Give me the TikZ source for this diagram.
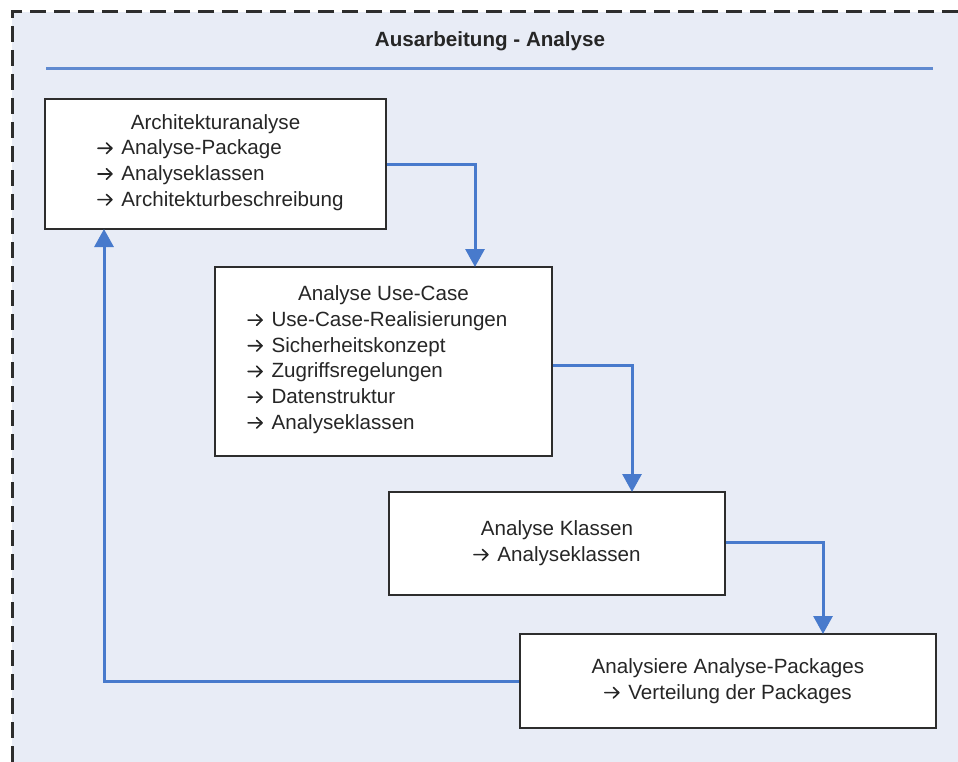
\documentclass[tikz,border=0pt]{standalone}
\usepackage{fontspec}
\setmainfont{Liberation Sans}
\usetikzlibrary{arrows.meta}
\definecolor{bgfill}{RGB}{232,236,246}
\definecolor{connblue}{RGB}{72,122,204}
\definecolor{hdrblue}{RGB}{96,138,208}
\definecolor{borderdark}{RGB}{45,45,45}
\newcommand{\rarrow}{\tikz[x=1pt,y=1pt,baseline=0pt]{\useasboundingbox (0,0) rectangle (15,12);
  \draw[line width=1.6pt, line cap=round, line join=round, black!85] (0.5,6.5) -- (14.5,6.5) (9,1.2) -- (14.5,6.5) -- (9,11.8);}\hspace{9pt}}
\tikzset{
  box/.style={draw=borderdark, line width=2pt, fill=white, inner sep=0pt,
    align=center, font=\fontsize{20.6}{25.7}\selectfont, text=black!85},
  conn/.style={draw=connblue, line width=3pt,
    -{Triangle[width=19pt,length=18pt]}},
}
\begin{document}
\begin{tikzpicture}[x=1pt,y=-1pt]
\useasboundingbox (0,0) rectangle (958,762);
% background frame
\fill[bgfill] (12,12) rectangle (958,762);
\draw[borderdark, line width=3pt, dash pattern=on 16pt off 8pt] (958,12) -- (12,12) -- (12,762);
% title
\node[font=\fontsize{20.6}{25}\selectfont\bfseries, text=black!85, anchor=base] (title) at (490,47) {Ausarbeitung - Analyse};
\draw[hdrblue, line width=3pt] (46,69) -- (933,69);
% boxes
\node[box, minimum width=341pt, minimum height=130pt] (a) at (215.5,164)
 {Architekturanalyse\\
  \begin{tabular}[t]{@{\hspace{10pt}}l@{}}
  \rarrow Analyse-Package\\ \rarrow Analyseklassen\\ \rarrow Architekturbeschreibung
  \end{tabular}};
\node[box, minimum width=337pt, minimum height=189pt] (b) at (383.5,361.5)
 {Analyse Use-Case\\
  \begin{tabular}[t]{@{}l@{\hspace{12pt}}}
  \rarrow Use-Case-Realisierungen\\ \rarrow Sicherheitskonzept\\ \rarrow Zugriffsregelungen\\ \rarrow Datenstruktur\\ \rarrow Analyseklassen
  \end{tabular}};
\node[box, minimum width=336pt, minimum height=103pt] (c) at (557,543)
 {Analyse Klassen\\ \rarrow Analyseklassen};
\node[box, minimum width=416pt, minimum height=94pt] (d) at (728,681)
 {Analysiere Analyse-Packages\\ \rarrow Verteilung der Packages};
% connector entry points
\coordinate (b-in) at (475,267);
\coordinate (c-in) at (632,492);
\coordinate (d-in) at (823,634);
\coordinate (a-in) at (104,229);
\draw[conn] ([yshift=-1pt]a.east) -| (b-in);
\draw[conn] ([yshift=-4pt]b.east) -| (c-in);
\draw[conn] ([yshift=1pt]c.east) -| (d-in);
\draw[conn] (d.west) -| (a-in);
\end{tikzpicture}
\end{document}
